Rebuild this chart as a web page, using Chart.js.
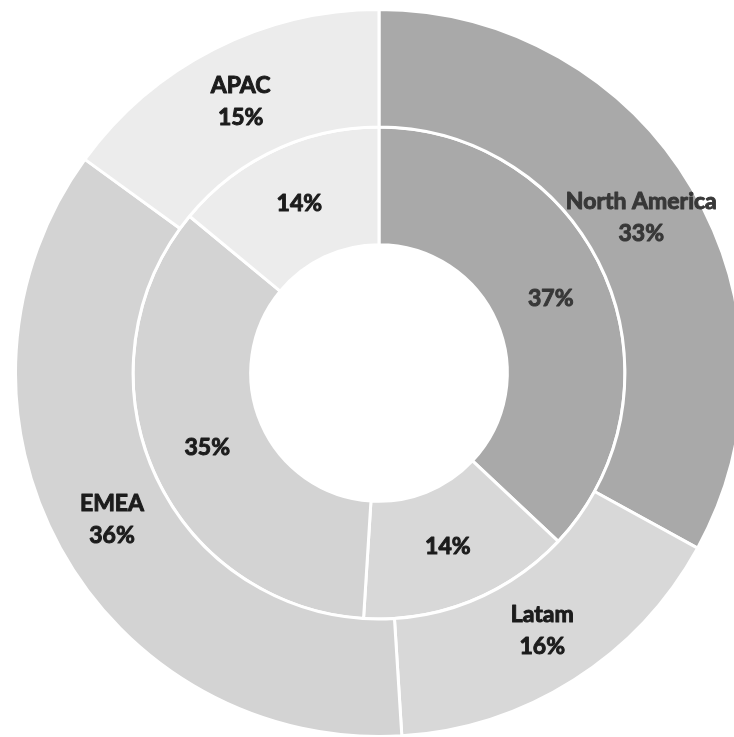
<!DOCTYPE html>
<html>
<head>
<meta charset="utf-8">
<script src="https://cdn.jsdelivr.net/npm/chart.js@4/dist/chart.umd.min.js"></script>
<style>
	html, body { margin: 0; padding: 0; background: #fff; overflow: hidden; width: 734px; height: 737px; }
	#chart { position: absolute; left: 14px; top: 8px; }
</style>
</head>
<body>
<canvas id="chart" width="730" height="730"></canvas>
<script>
const regions = ['North America', 'Latam', 'EMEA', 'APAC'];
const outerShare = [33, 16, 36, 15];
const innerShare = [37, 14, 35, 14];
const regionColors = ['#a9a9a9', '#d8d8d8', '#d3d3d3', '#ececec'];

// heavy text: fill plus a thin stroke, the installed Lato has no black weight
function heavyText(ctx, text, x, y) {
	ctx.fillText(text, x, y);
	ctx.strokeText(text, x, y);
}

const sliceLabels = {
	id: 'sliceLabels',
	afterDatasetsDraw(chart) {
		const { ctx } = chart;
		ctx.save();
		ctx.textAlign = 'center';
		ctx.textBaseline = 'middle';
		ctx.font = 'bold 23px Lato';
		ctx.lineWidth = 1;
		ctx.lineJoin = 'round';
		chart.data.datasets.forEach((ds, di) => {
			const meta = chart.getDatasetMeta(di);
			meta.data.forEach((arc, i) => {
				const p = arc.getCenterPoint();
				ctx.fillStyle = i === 0 ? '#383838' : '#1c1c1c';
				ctx.strokeStyle = ctx.fillStyle;
				const pct = `${ds.data[i]}%`;
				if (di === 0) {
					heavyText(ctx, regions[i], p.x, p.y - 16);
					heavyText(ctx, pct, p.x, p.y + 16);
				} else {
					heavyText(ctx, pct, p.x, p.y);
				}
			});
		});
		ctx.restore();
	},
};

new Chart(document.getElementById('chart'), {
	type: 'doughnut',
	data: {
		labels: regions,
		datasets: [
			{
				data: outerShare,
				backgroundColor: regionColors,
				borderColor: '#fff',
				borderWidth: 3,
			},
			{
				data: innerShare,
				backgroundColor: regionColors,
				borderColor: '#fff',
				borderWidth: 3,
			},
		],
	},
	options: {
		responsive: false,
		animation: false,
		cutout: '35.3%',
		layout: { padding: 0 },
		plugins: {
			legend: { display: false },
			tooltip: { enabled: false },
		},
	},
	plugins: [sliceLabels],
});
</script>
</body>
</html>
